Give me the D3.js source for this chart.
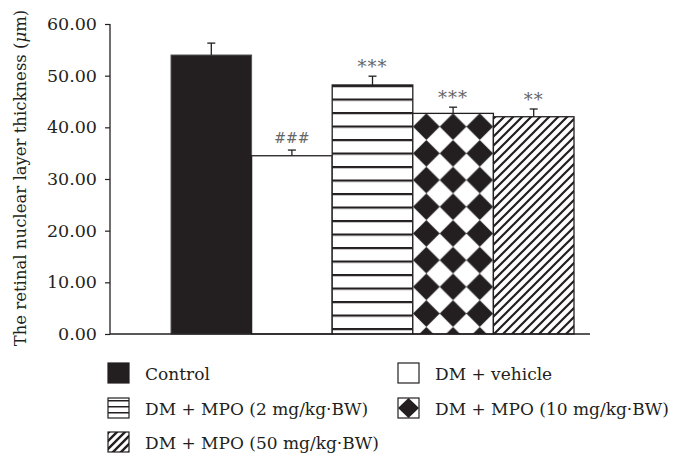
<!DOCTYPE html>
<html>
<head>
<meta charset="utf-8">
<script src="https://cdn.jsdelivr.net/npm/d3@7"></script>
<style>
  body { margin: 0; background: #fff; }
  svg text { font-family: "DejaVu Serif", "Liberation Serif", serif; fill: #231f20; }
</style>
</head>
<body>
<div id="chart"></div>
<script>
// data
var groups = ["Control", "DM + vehicle", "DM + MPO (2 mg/kg·BW)", "DM + MPO (10 mg/kg·BW)", "DM + MPO (50 mg/kg·BW)"];
var means = [54.0, 34.5, 48.2, 42.7, 42.05];
var errors = [2.3, 1.1, 1.7, 1.2, 1.5];
var marks = ["", "###", "***", "***", "**"];
var fills = ["solid", "none", "hlines", "diamonds", "diag"];
var yTicks = [0, 10, 20, 30, 40, 50, 60];

var W = 674, H = 456;
var ink = "#231f20";
var serif = "'DejaVu Serif', 'Liberation Serif', serif";

var svg = d3.select("#chart").append("svg")
  .attr("width", W).attr("height", H);

var defs = svg.append("defs");

// horizontal lines
var ph = defs.append("pattern").attr("id", "hlines")
  .attr("patternUnits", "userSpaceOnUse").attr("width", 10).attr("height", 13.5)
  .attr("y", 85);
ph.append("rect").attr("width", 10).attr("height", 13.5).attr("fill", "#fff");
ph.append("rect").attr("y", 0).attr("width", 10).attr("height", 2.2).attr("fill", ink);

// rotated checkerboard
var d = 26.7;
var pd = defs.append("pattern").attr("id", "diamonds")
  .attr("patternUnits", "userSpaceOnUse").attr("width", d).attr("height", d)
  .attr("x", 413).attr("y", 113.3);
pd.append("rect").attr("width", d).attr("height", d).attr("fill", "#fff");
pd.append("path").attr("d", "M" + d / 2 + ",0L" + d + "," + d / 2 + "L" + d / 2 + "," + d + "L0," + d / 2 + "Z").attr("fill", ink);

// diagonal stripes
var s = 9;
var pg = defs.append("pattern").attr("id", "diag")
  .attr("patternUnits", "userSpaceOnUse").attr("width", s).attr("height", s);
pg.append("rect").attr("width", s).attr("height", s).attr("fill", "#fff");
pg.append("path").attr("d", "M-1," + (s + 1) + "L" + (s + 1) + ",-1M-1,1L1,-1M" + (s - 1) + "," + (s + 1) + "L" + (s + 1) + "," + (s - 1))
  .attr("stroke", ink).attr("stroke-width", 2.2);

// legend patterns (smaller scale)
var lh = defs.append("pattern").attr("id", "hlinesL")
  .attr("patternUnits", "userSpaceOnUse").attr("width", 10).attr("height", 6).attr("y", 400);
lh.append("rect").attr("width", 10).attr("height", 6).attr("fill", "#fff");
lh.append("rect").attr("width", 10).attr("height", 1.5).attr("fill", ink);
var lg = defs.append("pattern").attr("id", "diagL")
  .attr("patternUnits", "userSpaceOnUse").attr("width", 8).attr("height", 8).attr("x", 108).attr("y", 433);
lg.append("rect").attr("width", 8).attr("height", 8).attr("fill", "#fff");
lg.append("path").attr("d", "M-1,9L9,-1M-1,1L1,-1M7,9L9,7").attr("stroke", ink).attr("stroke-width", 2.4);

var y = d3.scaleLinear().domain([0, 60]).range([334, 24]);
var x = d3.scaleBand().domain(groups).range([171, 574]).padding(0);

// y axis
var yAxis = svg.append("g").attr("transform", "translate(110,0)")
  .call(d3.axisLeft(y).tickValues(yTicks).tickFormat(d3.format(".2f")).tickSize(5).tickPadding(8));
yAxis.select(".domain").attr("stroke", ink).attr("stroke-width", 1.3).attr("d", "M0," + y(60) + "V" + y(0));
yAxis.selectAll(".tick line").attr("stroke", ink).attr("stroke-width", 1.2);
yAxis.selectAll(".tick text").style("font-size", "17.5px").attr("fill", ink)
  .style("font-family", serif);

// bars
var bars = svg.append("g");
groups.forEach(function(g, i) {
  var fill = fills[i] === "solid" ? ink : fills[i] === "none" ? "#fff" : "url(#" + fills[i] + ")";
  bars.append("rect")
    .attr("x", x(g)).attr("y", y(means[i]))
    .attr("width", x.bandwidth()).attr("height", y(0) - y(means[i]))
    .attr("fill", fill)
    .attr("stroke", fills[i] === "solid" ? "#555" : ink)
    .attr("stroke-width", fills[i] === "solid" ? 1 : 1.3);
});

// error bars
groups.forEach(function(g, i) {
  var cx = x(g) + x.bandwidth() / 2;
  svg.append("line").attr("x1", cx).attr("x2", cx)
    .attr("y1", y(means[i])).attr("y2", y(means[i] + errors[i]))
    .attr("stroke", ink).attr("stroke-width", 1.3);
  svg.append("line").attr("x1", cx - 4).attr("x2", cx + 4)
    .attr("y1", y(means[i] + errors[i])).attr("y2", y(means[i] + errors[i]))
    .attr("stroke", ink).attr("stroke-width", 1.3);
  if (marks[i]) {
    svg.append("text").attr("x", cx).attr("y", y(means[i] + errors[i]) - (marks[i][0] === "#" ? 7 : 3))
      .attr("text-anchor", "middle").style("font-size", marks[i][0] === "#" ? "14px" : "18px")
      .style("fill", "#666").style("letter-spacing", marks[i][0] === "#" ? "0px" : "1px")
      .text(marks[i]);
  }
});

// x axis line
svg.append("line").attr("x1", 110).attr("x2", 590).attr("y1", y(0)).attr("y2", y(0))
  .attr("stroke", ink).attr("stroke-width", 1.3);

// y title
svg.append("text")
  .attr("transform", "translate(26," + 178 + ") rotate(-90)")
  .attr("text-anchor", "middle").style("font-size", "16.5px")
  .html('The retinal nuclear layer thickness (<tspan font-style="italic">μ</tspan>m)');

// legend
var legendItems = [
  { i: 0, x: 108, y: 363 },
  { i: 1, x: 398, y: 363 },
  { i: 2, x: 108, y: 398 },
  { i: 3, x: 398, y: 398 },
  { i: 4, x: 108, y: 432 }
];
legendItems.forEach(function(it) {
  var k = fills[it.i];
  var g = svg.append("g");
  if (k === "diamonds") {
    g.append("rect").attr("x", it.x).attr("y", it.y).attr("width", 21).attr("height", 20)
      .attr("fill", "#fff").attr("stroke", ink).attr("stroke-width", 1.2);
    var cx = it.x + 10.5, cy = it.y + 10;
    g.append("path").attr("d", "M" + cx + "," + (cy - 10) + "L" + (cx + 10.5) + "," + cy + "L" + cx + "," + (cy + 10) + "L" + (cx - 10.5) + "," + cy + "Z")
      .attr("fill", ink);
  } else {
    var f = k === "solid" ? ink : k === "none" ? "#fff" : k === "hlines" ? "url(#hlinesL)" : "url(#diagL)";
    g.append("rect").attr("x", it.x).attr("y", it.y).attr("width", 21).attr("height", 20)
      .attr("fill", f).attr("stroke", ink).attr("stroke-width", 1.2);
  }
  g.append("text").attr("x", it.x + 37).attr("y", it.y + 17)
    .style("font-size", "17px").text(groups[it.i]);
});
</script>
</body>
</html>
